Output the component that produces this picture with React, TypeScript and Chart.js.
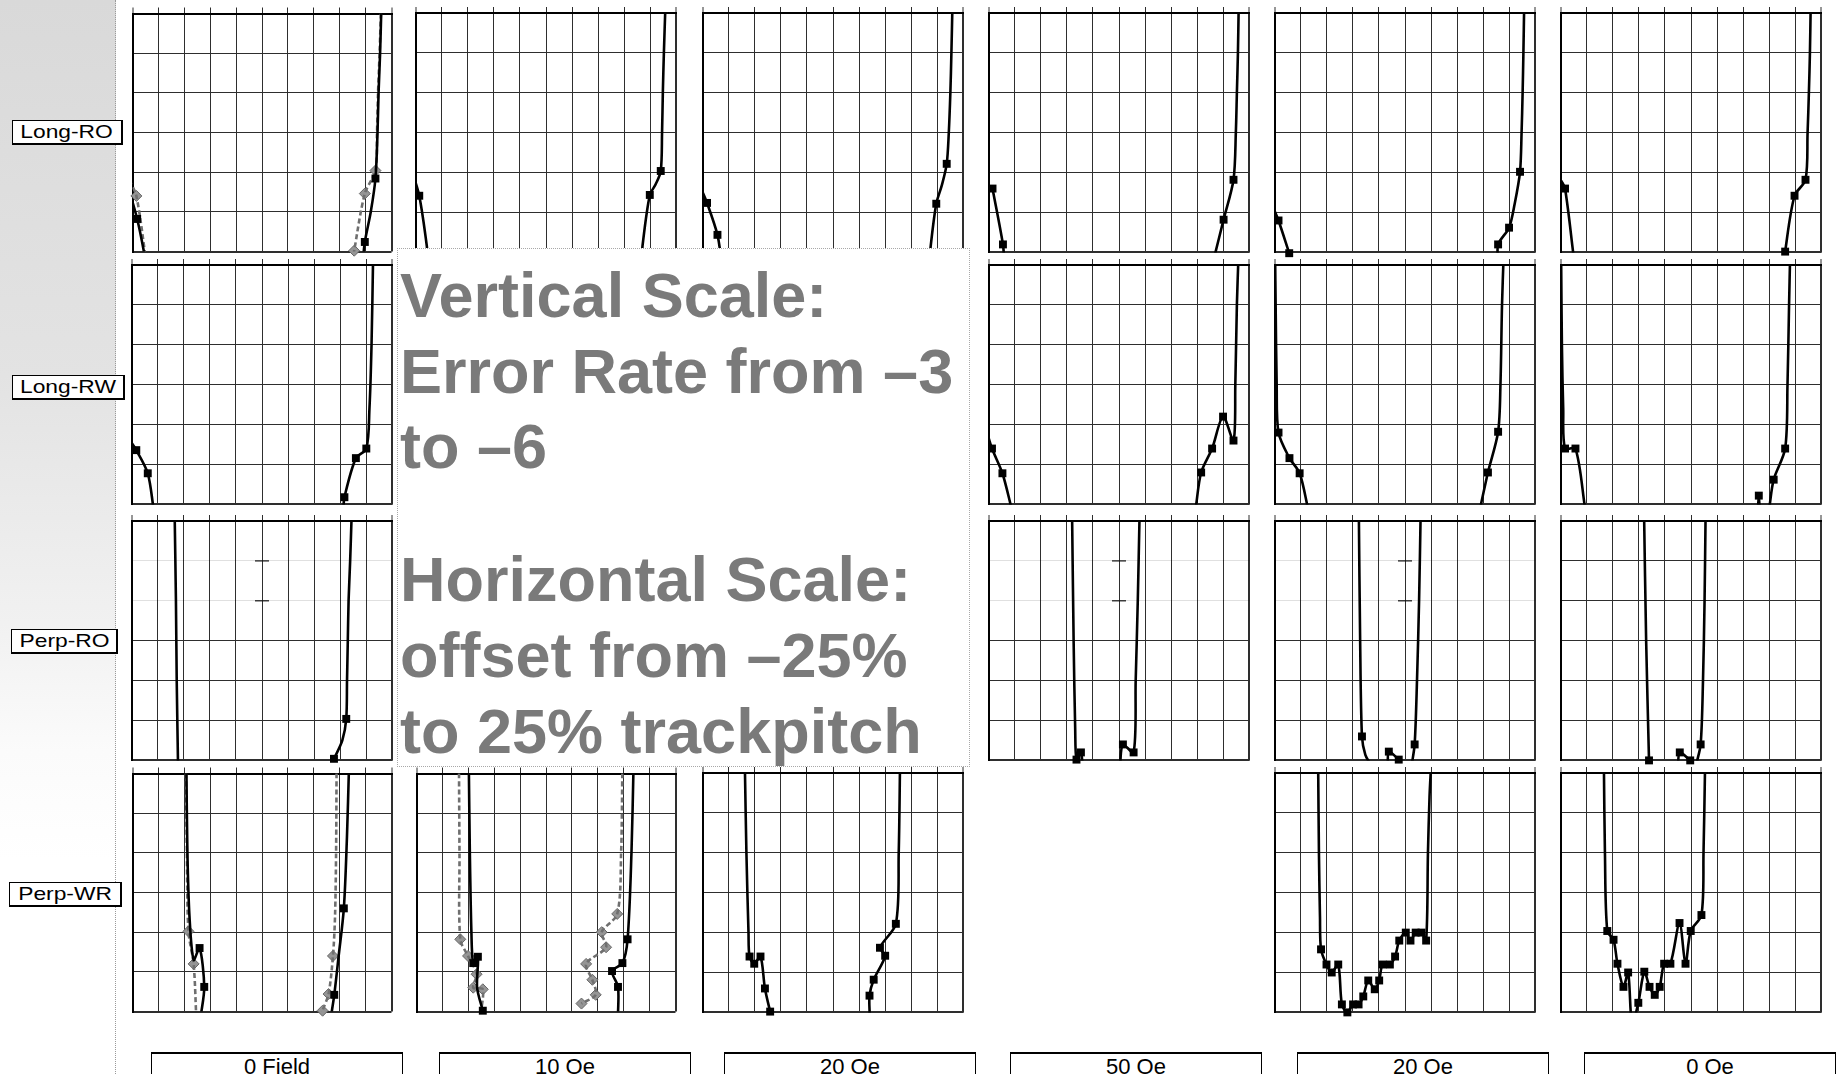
import React, { useEffect, useRef } from "react";
import { Chart, registerables } from "chart.js";

Chart.register(...registerables);

// ---------------- axes / labels ----------------
const OFFSET_MIN = -25; // % trackpitch
const OFFSET_MAX = 25;
const OFFSET_STEP = 5;
const ERR_MIN = -6; // log10 error rate
const ERR_MAX = -3;
const ERR_STEP = 0.5;

const ROW_LABELS = ["Long-RO", "Long-RW", "Perp-RO", "Perp-WR"];
const COL_LABELS = ["0 Field", "10 Oe", "20 Oe", "50 Oe", "20 Oe", "0 Oe"];
const NOTE_LINES = [
  "Vertical Scale:",
  "Error Rate from \u20133",
  "to \u20136",
  "Horizontal Scale:",
  "offset from \u201325%",
  "to 25% trackpitch",
];

// ---------------- data: [offset %, log error rate, marker shown] ----------------
type Pt = [number, number, number];

// Long-RO
const LRO_0F_L: Pt[] = [[-25.8, -5.2, 0], [-24.1, -5.59, 1], [-22.8, -6.0, 0], [-22.5, -6.15, 0]];
const LRO_0F_R: Pt[] = [[23.05, -2.9, 0], [22.8, -3.5, 0], [22.5, -4.0, 0], [22.3, -4.5, 0], [21.9, -5.08, 1], [21.0, -5.5, 0], [19.85, -5.88, 1], [19.5, -6.1, 0]];
const LRO_0F_GL: Pt[] = [[-25.6, -5.1, 0], [-24.25, -5.3, 1], [-22.4, -6.1, 0]];
const LRO_0F_GR: Pt[] = [[23.0, -2.9, 0], [22.7, -3.5, 0], [22.4, -4.0, 0], [22.2, -4.5, 0], [21.9, -4.98, 1], [19.85, -5.27, 1], [17.8, -5.99, 1], [17.6, -6.1, 0]];
const LRO_10_L: Pt[] = [[-25.6, -5.0, 0], [-24.3, -5.29, 1], [-22.85, -5.92, 0], [-22.7, -6.1, 0]];
const LRO_10_R: Pt[] = [[22.9, -2.9, 0], [22.6, -3.5, 0], [22.4, -4.0, 0], [22.25, -4.5, 0], [22.0, -4.98, 1], [21.0, -5.15, 0], [19.9, -5.28, 1], [18.5, -5.92, 0], [18.4, -6.1, 0]];
const LRO_20_L: Pt[] = [[-25.3, -5.2, 0], [-24.15, -5.38, 1], [-22.15, -5.78, 1], [-21.4, -6.1, 0]];
const LRO_20_R: Pt[] = [[22.9, -2.9, 0], [22.7, -3.5, 0], [22.5, -4.0, 0], [22.2, -4.5, 0], [21.8, -4.89, 1], [20.9, -5.15, 0], [19.8, -5.39, 1], [18.7, -5.94, 0], [18.6, -6.1, 0]];
const LRO_50_L: Pt[] = [[-24.25, -5.2, 1], [-22.25, -5.9, 1], [-22.0, -6.1, 0]];
const LRO_50_R: Pt[] = [[22.95, -2.9, 0], [22.8, -3.5, 0], [22.6, -4.0, 0], [22.4, -4.5, 0], [21.95, -5.09, 1], [20.05, -5.59, 1], [18.3, -6.05, 0]];
const LRO_20B_L: Pt[] = [[-25.2, -5.45, 0], [-24.25, -5.6, 1], [-22.2, -6.01, 1]];
const LRO_20B_R: Pt[] = [[22.85, -2.9, 0], [22.7, -3.5, 0], [22.55, -4.0, 0], [22.35, -4.5, 0], [22.05, -4.99, 1], [21.0, -5.4, 0], [19.95, -5.69, 1], [17.85, -5.9, 1], [17.85, -6.1, 0]];
const LRO_0B_L: Pt[] = [[-24.9, -5.1, 0], [-24.15, -5.2, 1], [-22.5, -6.05, 0]];
const LRO_0B_R: Pt[] = [[22.95, -2.9, 0], [22.8, -3.5, 0], [22.6, -4.0, 0], [22.35, -4.5, 0], [21.95, -5.09, 1], [19.85, -5.29, 1], [18.05, -5.99, 1], [18.0, -6.1, 0]];

// Long-RW
const LRW_0F_L: Pt[] = [[-25.3, -5.2, 0], [-24.1, -5.32, 1], [-21.9, -5.61, 1], [-20.8, -6.05, 0]];
const LRW_0F_R: Pt[] = [[15.6, -6.05, 0], [15.8, -5.91, 1], [18.0, -5.42, 1], [20.0, -5.3, 1], [20.6, -4.8, 0], [21.0, -4.0, 0], [21.3, -2.9, 0]];
const LRW_50_L: Pt[] = [[-25.3, -5.1, 0], [-24.35, -5.3, 1], [-22.35, -5.61, 1], [-20.6, -6.05, 0]];
const LRW_50_R: Pt[] = [[14.7, -6.05, 0], [15.75, -5.6, 1], [17.85, -5.3, 1], [19.95, -4.9, 1], [21.95, -5.2, 1], [22.3, -4.5, 0], [22.6, -3.5, 0], [22.9, -2.9, 0]];
const LRW_20B_L: Pt[] = [[-24.9, -2.9, 0], [-24.8, -3.5, 0], [-24.6, -4.5, 0], [-24.25, -5.1, 1], [-22.15, -5.42, 1], [-20.2, -5.61, 1], [-18.6, -6.05, 0]];
const LRW_20B_R: Pt[] = [[14.4, -6.05, 0], [15.9, -5.6, 1], [17.85, -5.09, 1], [18.3, -4.5, 0], [18.6, -3.5, 0], [18.9, -2.9, 0]];
const LRW_0B_L: Pt[] = [[-24.9, -2.9, 0], [-24.75, -4.0, 0], [-24.5, -4.8, 0], [-24.15, -5.3, 1], [-22.15, -5.3, 1], [-20.3, -6.05, 0]];
const LRW_0B_M: Pt[] = [[12.8, -6.1, 0], [13.0, -5.89, 1], [13.2, -6.1, 0]];
const LRW_0B_R: Pt[] = [[15.0, -6.05, 0], [15.85, -5.69, 1], [18.05, -5.3, 1], [18.5, -4.5, 0], [18.8, -3.5, 0], [19.0, -2.9, 0]];

// Perp-RO
const PRO_0F_L: Pt[] = [[-16.75, -2.9, 0], [-16.5, -4.0, 0], [-16.35, -5.0, 0], [-16.1, -6.05, 0]];
const PRO_0F_R: Pt[] = [[17.2, -2.9, 0], [16.9, -3.5, 0], [16.6, -4.0, 0], [16.45, -4.5, 0], [16.3, -5.0, 0], [16.15, -5.48, 1], [15.4, -5.75, 0], [13.8, -5.98, 1]];
const PRO_50_L: Pt[] = [[-9.0, -2.9, 0], [-8.7, -4.5, 0], [-8.4, -5.6, 0], [-8.15, -5.99, 1], [-7.3, -5.9, 1], [-7.0, -6.05, 0]];
const PRO_50_R: Pt[] = [[0.2, -6.05, 0], [0.75, -5.8, 1], [2.8, -5.9, 1], [3.2, -5.0, 0], [3.6, -4.0, 0], [3.95, -2.9, 0]];
const PRO_20B_L: Pt[] = [[-8.85, -2.9, 0], [-8.6, -4.5, 0], [-8.25, -5.7, 1], [-7.6, -5.93, 0], [-6.6, -6.05, 0]];
const PRO_20B_M: Pt[] = [[-3.3, -6.05, 0], [-3.1, -5.89, 1], [-1.2, -5.99, 1]];
const PRO_20B_R: Pt[] = [[1.3, -6.05, 0], [1.85, -5.8, 1], [2.3, -5.0, 0], [2.7, -4.0, 0], [3.0, -2.9, 0]];
const PRO_0B_L: Pt[] = [[-9.0, -2.9, 0], [-8.6, -4.5, 0], [-8.05, -6.0, 1]];
const PRO_0B_M: Pt[] = [[-2.5, -6.05, 0], [-2.15, -5.9, 1], [-0.15, -6.0, 1]];
const PRO_0B_R: Pt[] = [[1.0, -6.05, 0], [1.85, -5.8, 1], [2.3, -5.0, 0], [2.6, -4.0, 0], [2.8, -2.9, 0]];

// Perp-WR
const PWR_0F_L: Pt[] = [[-14.6, -2.9, 0], [-14.4, -4.0, 0], [-14.0, -4.8, 0], [-13.2, -5.35, 0], [-12.05, -5.2, 1], [-11.15, -5.69, 1], [-11.8, -6.05, 0]];
const PWR_0F_R: Pt[] = [[16.8, -2.9, 0], [16.4, -3.8, 0], [15.8, -4.7, 1], [14.8, -5.3, 0], [13.95, -5.79, 1], [13.35, -6.05, 0]];
const PWR_0F_GL: Pt[] = [[-14.7, -2.9, 0], [-14.5, -4.0, 0], [-14.2, -4.99, 1], [-13.2, -5.4, 1], [-12.7, -6.05, 0]];
const PWR_0F_GR: Pt[] = [[14.4, -2.9, 0], [14.3, -4.0, 0], [14.1, -4.8, 0], [13.7, -5.3, 1], [12.85, -5.78, 1], [11.7, -5.99, 1], [11.5, -6.1, 0]];
const PWR_10_L: Pt[] = [[-14.9, -2.9, 0], [-14.7, -4.0, 0], [-14.4, -5.0, 0], [-14.05, -5.39, 1], [-13.15, -5.31, 1], [-13.3, -5.7, 0], [-12.2, -5.99, 1]];
const PWR_10_R: Pt[] = [[16.9, -2.9, 0], [16.5, -4.0, 0], [15.75, -5.09, 1], [14.75, -5.39, 1], [12.75, -5.49, 1], [13.9, -5.69, 1], [13.9, -6.05, 0]];
const PWR_10_GL: Pt[] = [[-16.8, -2.9, 0], [-16.7, -4.0, 0], [-16.55, -5.09, 1], [-15.05, -5.3, 1], [-13.4, -5.53, 1], [-14.05, -5.7, 1], [-12.2, -5.72, 1], [-12.8, -6.1, 0]];
const PWR_10_GR: Pt[] = [[14.75, -2.9, 0], [14.5, -4.0, 0], [13.75, -4.77, 1], [10.75, -5.0, 1], [11.6, -5.19, 1], [7.75, -5.4, 1], [8.95, -5.6, 1], [9.6, -5.79, 1], [6.85, -5.9, 1]];
const PWR_20_L: Pt[] = [[-16.9, -2.9, 0], [-16.6, -4.0, 0], [-16.2, -5.0, 0], [-16.0, -5.3, 1], [-15.1, -5.39, 1], [-13.9, -5.3, 1], [-13.05, -5.7, 1], [-12.05, -5.99, 1]];
const PWR_20_R: Pt[] = [[12.85, -2.9, 0], [12.6, -4.0, 0], [12.05, -4.89, 1], [9.0, -5.19, 1], [10.0, -5.29, 1], [7.8, -5.59, 1], [7.0, -5.79, 1], [7.05, -6.05, 0]];
const PWR_20B: Pt[] = [[-16.65, -2.9, 0], [-16.5, -4.0, 0], [-16.3, -4.8, 0], [-16.1, -5.21, 1], [-15.05, -5.4, 1], [-14.05, -5.5, 1], [-12.8, -5.4, 1], [-12.1, -5.9, 1], [-11.05, -6.0, 1], [-9.95, -5.9, 1], [-8.9, -5.9, 1], [-8.0, -5.8, 1], [-7.05, -5.6, 1], [-5.8, -5.71, 1], [-4.95, -5.6, 1], [-4.3, -5.4, 1], [-2.9, -5.4, 1], [-1.9, -5.3, 1], [-1.1, -5.1, 1], [0.15, -5.0, 1], [1.05, -5.1, 1], [2.05, -5.0, 1], [3.15, -5.0, 1], [4.05, -5.1, 1], [4.4, -4.0, 0], [4.7, -3.3, 0], [5.0, -2.9, 0]];
const PWR_0B: Pt[] = [[-16.7, -2.9, 0], [-16.5, -4.0, 0], [-16.05, -4.98, 1], [-14.85, -5.09, 1], [-14.1, -5.39, 1], [-12.95, -5.68, 1], [-12.05, -5.5, 1], [-11.3, -6.15, 0], [-10.1, -5.88, 1], [-8.95, -5.49, 1], [-7.95, -5.68, 1], [-6.95, -5.78, 1], [-6.0, -5.68, 1], [-5.15, -5.39, 1], [-3.95, -5.39, 1], [-2.2, -4.88, 1], [-1.05, -5.39, 1], [-0.05, -4.98, 1], [2.0, -4.78, 1], [2.4, -4.0, 0], [2.7, -2.9, 0]];

// ---------------- layout ----------------
const COL_X = [128, 412, 699, 985, 1271, 1557];
const ROW_Y = [13, 265, 521, 773];
const PW = 268;
const PH = 243;

type PanelCfg = { row: number; col: number; black: Pt[][]; gray: Pt[][]; faint?: boolean };

const PANELS: PanelCfg[] = [
  { row: 0, col: 0, black: [LRO_0F_L, LRO_0F_R], gray: [LRO_0F_GL, LRO_0F_GR] },
  { row: 0, col: 1, black: [LRO_10_L, LRO_10_R], gray: [] },
  { row: 0, col: 2, black: [LRO_20_L, LRO_20_R], gray: [] },
  { row: 0, col: 3, black: [LRO_50_L, LRO_50_R], gray: [] },
  { row: 0, col: 4, black: [LRO_20B_L, LRO_20B_R], gray: [] },
  { row: 0, col: 5, black: [LRO_0B_L, LRO_0B_R], gray: [] },
  { row: 1, col: 0, black: [LRW_0F_L, LRW_0F_R], gray: [] },
  { row: 1, col: 3, black: [LRW_50_L, LRW_50_R], gray: [] },
  { row: 1, col: 4, black: [LRW_20B_L, LRW_20B_R], gray: [] },
  { row: 1, col: 5, black: [LRW_0B_L, LRW_0B_M, LRW_0B_R], gray: [] },
  { row: 2, col: 0, black: [PRO_0F_L, PRO_0F_R], gray: [], faint: true },
  { row: 2, col: 3, black: [PRO_50_L, PRO_50_R], gray: [], faint: true },
  { row: 2, col: 4, black: [PRO_20B_L, PRO_20B_M, PRO_20B_R], gray: [], faint: true },
  { row: 2, col: 5, black: [PRO_0B_L, PRO_0B_M, PRO_0B_R], gray: [] },
  { row: 3, col: 0, black: [PWR_0F_L, PWR_0F_R], gray: [PWR_0F_GL, PWR_0F_GR] },
  { row: 3, col: 1, black: [PWR_10_L, PWR_10_R], gray: [PWR_10_GL, PWR_10_GR] },
  { row: 3, col: 2, black: [PWR_20_L, PWR_20_R], gray: [] },
  { row: 3, col: 4, black: [PWR_20B], gray: [] },
  { row: 3, col: 5, black: [PWR_0B], gray: [] },
];

const GRID = "#2e2e2e";

const centerTicks = {
  id: "centerTicks",
  afterDraw(chart: any) {
    const { ctx, scales } = chart;
    const x = scales.x.getPixelForValue(0);
    ctx.save();
    ctx.strokeStyle = "#111";
    ctx.lineWidth = 1.2;
    for (const v of [-3.5, -4]) {
      const y = scales.y.getPixelForValue(v);
      ctx.beginPath();
      ctx.moveTo(x - 7, y);
      ctx.lineTo(x + 7, y);
      ctx.stroke();
    }
    ctx.restore();
  },
};

function toXY(pts: Pt[]) {
  return pts.map((p) => ({ x: p[0], y: p[1] }));
}

function Panel({ cfg }: { cfg: PanelCfg }) {
  const ref = useRef<HTMLCanvasElement>(null);
  useEffect(() => {
    const datasets: any[] = [];
    cfg.black.forEach((c) => {
      datasets.push({
        data: toXY(c), showLine: true, borderColor: "#000", borderWidth: 2.6,
        pointRadius: 0, tension: 0.3, order: 0,
      });
      datasets.push({
        data: toXY(c.filter((p) => p[2])), showLine: false, pointStyle: "rect",
        pointRadius: 5.6, backgroundColor: "#000", borderColor: "#000", borderWidth: 0, clip: false, order: 0,
      });
    });
    cfg.gray.forEach((c) => {
      datasets.push({
        data: toXY(c), showLine: true, borderColor: "#6f6f6f", borderWidth: 2.6, borderDash: [5, 3],
        pointRadius: 0, tension: 0.3, order: 1,
      });
      datasets.push({
        data: toXY(c.filter((p) => p[2])), showLine: false, pointStyle: "rectRot",
        pointRadius: 5.5, backgroundColor: "#959595", borderColor: "#666", borderWidth: 1, clip: false, order: 1,
      });
    });
    const faint = !!cfg.faint;
    const chart = new Chart(ref.current as HTMLCanvasElement, {
      type: "scatter",
      data: { datasets },
      options: {
        animation: false,
        responsive: false,
        maintainAspectRatio: false,
        events: [],
        layout: { padding: { left: 2, right: 2, top: 0, bottom: 2 } },
        plugins: { legend: { display: false }, tooltip: { enabled: false } },
        scales: {
          x: {
            type: "linear",
            position: "top",
            min: OFFSET_MIN,
            max: OFFSET_MAX,
            ticks: { display: false, stepSize: OFFSET_STEP },
            grid: {
              color: GRID,
              lineWidth: (c: any) => (c.tick && Math.abs(c.tick.value) === OFFSET_MAX ? 2 : 1),
              drawTicks: true,
              tickLength: 6,
              tickColor: GRID,
              tickWidth: 1,
            },
            border: { display: true, color: "#000", width: 2 },
          },
          y: {
            type: "linear",
            min: ERR_MIN,
            max: ERR_MAX,
            ticks: { display: false, stepSize: ERR_STEP },
            grid: {
              color: (c: any) =>
                faint && c.tick && (c.tick.value === -3.5 || c.tick.value === -4) ? "rgba(0,0,0,0.12)" : GRID,
              lineWidth: (c: any) =>
                c.tick && (c.tick.value === ERR_MIN || c.tick.value === ERR_MAX) ? 2 : 1,
              drawTicks: false,
            },
            border: { display: true, color: "#000", width: 2 },
          },
        },
      } as any,
      plugins: faint ? [centerTicks] : [],
    });
    return () => chart.destroy();
  }, []);
  return (
    <canvas
      ref={ref}
      width={PW + 4}
      height={PH + 8}
      style={{ position: "absolute", left: COL_X[cfg.col] - 2, top: ROW_Y[cfg.row] - 6, width: PW + 4, height: PH + 8 }}
    />
  );
}

const ROW_LABEL_POS = [
  { left: 12, top: 120, width: 108 },
  { left: 12, top: 375, width: 110 },
  { left: 11, top: 629, width: 104 },
  { left: 9, top: 882, width: 110 },
];
const COL_LABEL_X = [151, 439, 724, 1010, 1297, 1584];
const NOTE_TOPS = [8, 84, 159, 292, 368, 444];

export default function App() {
  return (
    <div
      style={{
        position: "absolute", left: 0, top: 0, width: 1837, height: 1074, overflow: "hidden",
        background: "#fff", fontFamily: '"Liberation Sans", Arial, sans-serif',
      }}
    >
      <div
        style={{
          position: "absolute", left: 0, top: 0, width: 115, height: 1074,
          background: "linear-gradient(#d9d9d9 0%, #e3e3e3 35%, #f1f1f1 58%, #fbfbfb 70%, #ffffff 80%)",
          borderRight: "1px dotted #9a9a9a",
        }}
      />
      {PANELS.map((p, i) => (
        <Panel key={i} cfg={p} />
      ))}
      {ROW_LABELS.map((t, i) => (
        <div
          key={t}
          style={{
            position: "absolute", left: ROW_LABEL_POS[i].left, top: ROW_LABEL_POS[i].top,
            width: ROW_LABEL_POS[i].width, height: 22, background: "#fff",
            borderTop: "1px solid #000", borderLeft: "1px solid #000",
            borderRight: "2.5px solid #000", borderBottom: "2.5px solid #000",
            display: "flex", alignItems: "center", justifyContent: "center",
          }}
        >
          <span style={{ fontSize: 19, color: "#000", transform: "scaleX(1.2)", display: "inline-block", whiteSpace: "nowrap" }}>
            {t}
          </span>
        </div>
      ))}
      {COL_LABELS.map((t, i) => (
        <div
          key={i}
          style={{
            position: "absolute", left: COL_LABEL_X[i], top: 1052, width: 250, height: 30,
            background: "#fff", border: "1px solid #000", borderTop: "2px solid #000",
            textAlign: "center", fontSize: 22, lineHeight: "25px", color: "#000",
          }}
        >
          {t}
        </div>
      ))}
      <div
        style={{
          position: "absolute", left: 397, top: 248, width: 573, height: 519,
          background: "#fff", border: "1px dotted #a8a8a8", boxSizing: "border-box",
        }}
      >
        {NOTE_LINES.map((t, i) => (
          <div
            key={i}
            style={{
              position: "absolute", left: 2, top: NOTE_TOPS[i], fontSize: 63, lineHeight: "76px",
              fontWeight: 700, color: "#7a7a7a", whiteSpace: "nowrap",
            }}
          >
            {t}
          </div>
        ))}
      </div>
    </div>
  );
}
